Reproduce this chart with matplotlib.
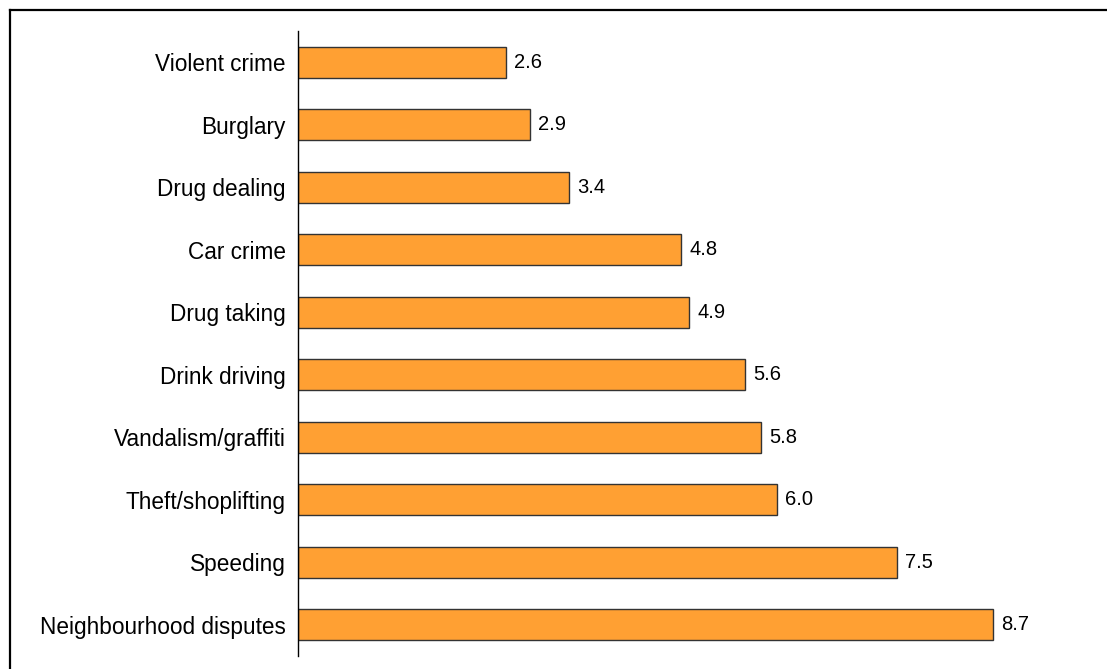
import matplotlib
matplotlib.use("Agg")
import matplotlib.pyplot as plt
from matplotlib.lines import Line2D

categories = ["Violent crime", "Burglary", "Drug dealing", "Car crime", "Drug taking",
              "Drink driving", "Vandalism/graffiti", "Theft/shoplifting", "Speeding",
              "Neighbourhood disputes"]
values = [2.6, 2.9, 3.4, 4.8, 4.9, 5.6, 5.8, 6.0, 7.5, 8.7]

plt.rcParams["font.family"] = ["Liberation Sans", "DejaVu Sans"]

fig = plt.figure(figsize=(11.07, 6.69), dpi=100)
ax = fig.add_axes([0.2692, 0.0194, 0.7213, 0.9343])

ypos = list(range(len(categories)))
ax.barh(ypos, values, height=0.5, color="#FFA033", edgecolor="#333333", linewidth=1.0)
for y, v in zip(ypos, values):
    ax.text(v + 0.1, y, f"{v:.1f}", va="center", ha="left", fontsize=14.5)

ax.set_xlim(0, 10)
ax.set_ylim(len(categories) - 0.5, -0.5)
ax.set_yticks(ypos)
ax.set_yticklabels(categories, fontsize=16.3)
ax.tick_params(axis="y", length=0, pad=9)
ax.set_xticks([])
for s in ["top", "right", "bottom"]:
    ax.spines[s].set_visible(False)
ax.spines["left"].set_linewidth(1.0)

# outer frame (only top and left edges fall inside the image)
fig.add_artist(Line2D([9.5 / 1107, 1.0], [1 - 9.5 / 669] * 2, color="black", lw=1.6,
                      transform=fig.transFigure))
fig.add_artist(Line2D([9.5 / 1107] * 2, [0.0, 1 - 9.5 / 669], color="black", lw=1.6,
                      transform=fig.transFigure))

plt.savefig("out.png", dpi=100)
plt.close()
